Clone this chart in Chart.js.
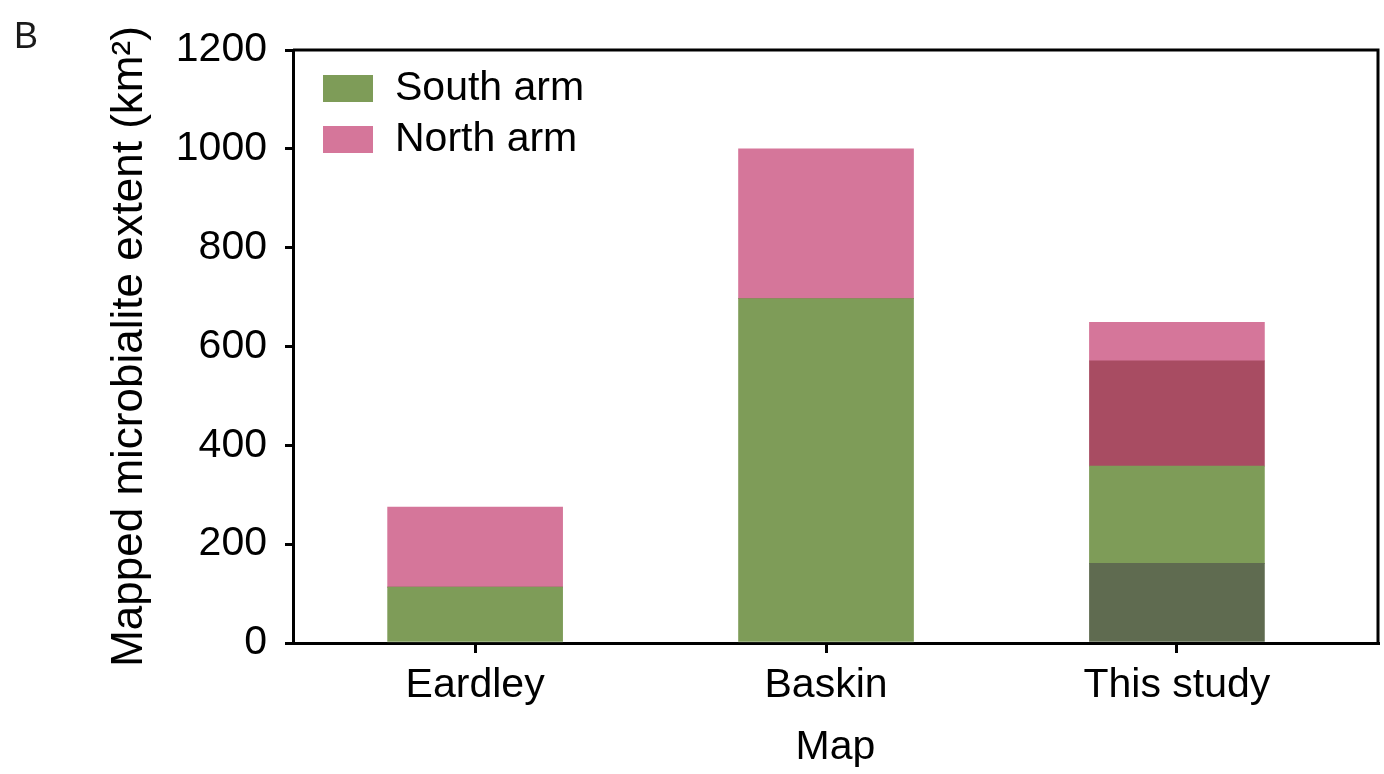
<!DOCTYPE html>
<html>
<head>
<meta charset="utf-8">
<script src="https://cdn.jsdelivr.net/npm/chart.js@4.4.0/dist/chart.umd.min.js"></script>
<style>
  html, body { margin: 0; padding: 0; background: #fff; }
  canvas { display: block; }
</style>
</head>
<body>
<canvas id="microbialiteChart" width="1384" height="774"></canvas>
<script>
// values (km2)
const categories = ['Eardley', 'Baskin', 'This study'];
const southArmDark = [0, 0, 161];
const southArm = [113, 697, 197];
const northArmDark = [0, 0, 213];
const northArm = [162, 303, 78];
const yTicks = [0, 200, 400, 600, 800, 1000, 1200];

const FONT = "'Liberation Sans', Arial, Helvetica, sans-serif";

function toPoints(values) {
    return values.map((v, i) => ({ x: i, y: v }));
}

// frame, panel letter and the in-plot legend
const decorations = {
    id: 'decorations',
    afterDraw(chart) {
        const { ctx, chartArea } = chart;
        ctx.save();
        ctx.strokeStyle = '#000';
        ctx.lineWidth = 3;
        ctx.beginPath();
        ctx.moveTo(chartArea.left, chartArea.top);
        ctx.lineTo(chartArea.right, chartArea.top);
        ctx.lineTo(chartArea.right, chartArea.bottom);
        ctx.stroke();

        ctx.fillStyle = '#1a1a1a';
        ctx.font = '36px ' + FONT;
        ctx.textBaseline = 'middle';
        ctx.textAlign = 'left';
        ctx.fillText('B', 14, 38);

        const items = chart.data.datasets.filter(d => d.inLegend);
        ctx.font = '41px ' + FONT;
        items.forEach((d, i) => {
            const y = chartArea.top + 25 + i * 51;
            ctx.fillStyle = d.backgroundColor;
            ctx.fillRect(chartArea.left + 30, y, 50, 27);
            ctx.fillStyle = '#000';
            ctx.fillText(d.label, chartArea.left + 102, y + 14);
        });
        ctx.restore();
    }
};

const ctx = document.getElementById('microbialiteChart').getContext('2d');
new Chart(ctx, {
    type: 'bar',
    data: {
        datasets: [
            { label: 'South arm (inner)', data: toPoints(southArmDark), backgroundColor: '#5f6b50', inLegend: false },
            { label: 'South arm', data: toPoints(southArm), backgroundColor: '#7e9c58', inLegend: true },
            { label: 'North arm (inner)', data: toPoints(northArmDark), backgroundColor: '#a84c62', inLegend: false },
            { label: 'North arm', data: toPoints(northArm), backgroundColor: '#d5769a', inLegend: true }
        ]
    },
    options: {
        responsive: false,
        animation: false,
        devicePixelRatio: 1,
        layout: { padding: { left: 0, right: 6, top: 50, bottom: 0 } },
        datasets: { bar: { barThickness: 175, borderWidth: 0 } },
        plugins: {
            legend: { display: false },
            tooltip: { enabled: false }
        },
        scales: {
            x: {
                type: 'linear',
                stacked: true,
                offset: false,
                min: -0.519,
                max: 2.573,
                afterBuildTicks: scale => {
                    scale.ticks = categories.map((c, i) => ({ value: i }));
                },
                afterFit: scale => { scale.height = 131; },
                ticks: {
                    color: '#000',
                    padding: 8,
                    maxRotation: 0,
                    font: { family: FONT, size: 41 },
                    callback: value => categories[value]
                },
                grid: { offset: false, drawOnChartArea: false, drawTicks: true, tickLength: 10, color: '#000', lineWidth: 3 },
                border: { display: true, color: '#000', width: 3 },
                title: {
                    display: true,
                    text: 'Map',
                    color: '#000',
                    font: { family: FONT, size: 41 },
                    padding: { top: 0, bottom: 2 }
                }
            },
            y: {
                stacked: true,
                min: 0,
                max: 1200,
                afterBuildTicks: scale => {
                    scale.ticks = yTicks.map(v => ({ value: v }));
                },
                afterFit: scale => { scale.width = 293; },
                ticks: {
                    color: '#000',
                    padding: 18,
                    font: { family: FONT, size: 41 },
                    callback: value => String(value)
                },
                grid: { drawOnChartArea: false, drawTicks: true, tickLength: 8, color: '#000', lineWidth: 3 },
                border: { display: true, color: '#000', width: 3 },
                title: {
                    display: true,
                    text: 'Mapped microbialite extent (km\u00b2)',
                    color: '#000',
                    font: { family: FONT, size: 44 },
                    padding: { top: 103, bottom: 0 }
                }
            }
        }
    },
    plugins: [decorations]
});
</script>
</body>
</html>
